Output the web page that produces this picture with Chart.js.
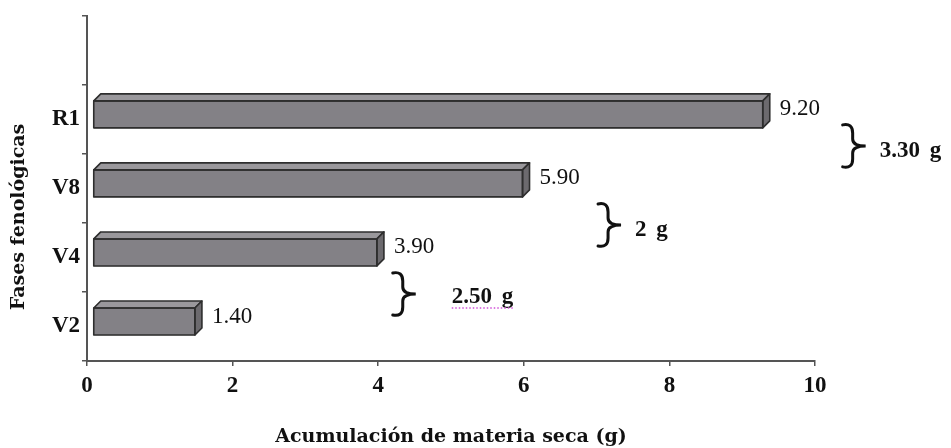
<!DOCTYPE html>
<html>
<head>
<meta charset="utf-8">
<script src="https://cdn.jsdelivr.net/npm/chart.js@4/dist/chart.umd.min.js"></script>
<style>
  html, body { margin: 0; padding: 0; background: #ffffff; }
  #wrap { width: 951px; height: 448px; }
</style>
</head>
<body>
<div id="wrap"><canvas id="c"></canvas></div>
<script>
// Phenological stages (top slot left empty) and dry matter accumulated at each stage (g)
const stages = ['', 'R1', 'V8', 'V4', 'V2'];
const dryMatter = [null, 9.20, 5.90, 3.90, 1.40];
const valueLabels = ['', '9.20', '5.90', '3.90', '1.40'];
const xTicks = [0, 2, 4, 6, 8, 10];
// Gain between consecutive stages: R1-V8, V8-V4, V4-V2
const gainLabels = ['3.30 g', '2 g', '2.50 g'];
const xTitle = 'Acumulación de materia seca (g)';
const yTitle = 'Fases fenológicas';

const FRONT = '#838186', TOP = '#9a989c', SIDE = '#6c6a6e', EDGE = '#2e2e2e';
const DEPTH = 7, SHIFT_X = 6, SHIFT_Y = -5;

// Pseudo-3D bars: front face drawn by Chart.js, top and side faces added here
const bars3d = {
  id: 'bars3d',
  beforeDatasetsDraw(chart) {
    chart.ctx.save();
    chart.ctx.translate(SHIFT_X, SHIFT_Y);
  },
  afterDatasetsDraw(chart) {
    const ctx = chart.ctx;
    const meta = chart.getDatasetMeta(0);
    ctx.lineWidth = 1.6;
    ctx.strokeStyle = EDGE;
    ctx.lineJoin = 'round';
    meta.data.forEach((bar, i) => {
      if (dryMatter[i] == null) return;
      const { x, y, base, height } = bar.getProps(['x', 'y', 'base', 'height'], true);
      const t = y - height / 2, b = y + height / 2;
      ctx.beginPath();
      ctx.moveTo(base, t);
      ctx.lineTo(base + DEPTH, t - DEPTH);
      ctx.lineTo(x + DEPTH, t - DEPTH);
      ctx.lineTo(x, t);
      ctx.closePath();
      ctx.fillStyle = TOP;
      ctx.fill();
      ctx.stroke();
      ctx.beginPath();
      ctx.moveTo(x, t);
      ctx.lineTo(x + DEPTH, t - DEPTH);
      ctx.lineTo(x + DEPTH, b - DEPTH);
      ctx.lineTo(x, b);
      ctx.closePath();
      ctx.fillStyle = SIDE;
      ctx.fill();
      ctx.stroke();
      ctx.beginPath();
      ctx.rect(base, t, x - base, b - t);
      ctx.stroke();
    });
    ctx.restore();

    // value labels to the right of each bar
    ctx.save();
    ctx.font = '23px "Liberation Serif"';
    ctx.fillStyle = '#111';
    ctx.textAlign = 'left';
    ctx.textBaseline = 'middle';
    meta.data.forEach((bar, i) => {
      if (dryMatter[i] == null) return;
      ctx.fillText(valueLabels[i], bar.x + SHIFT_X + DEPTH + 10, bar.y - 10);
    });
    ctx.restore();
  }
};

// Braces marking the gain between consecutive stages
const braceLayout = [
  { x: 10.38, dy: -8, gap: 13, textDy: 5 },
  { x: 7.02, dy: 2, gap: 13, textDy: 5 },
  { x: 4.20, dy: 2, gap: 35, textDy: 3, underline: true }
];

function drawBrace(ctx, x0, cy, h) {
  const top = cy - h / 2, bot = cy + h / 2, xm = x0 + 10, xp = x0 + 23;
  ctx.beginPath();
  ctx.moveTo(x0, top + 1);
  ctx.quadraticCurveTo(xm, top - 1, xm, top + 9);
  ctx.lineTo(xm, cy - 7);
  ctx.quadraticCurveTo(xm, cy, xp, cy);
  ctx.quadraticCurveTo(xm, cy, xm, cy + 7);
  ctx.lineTo(xm, bot - 9);
  ctx.quadraticCurveTo(xm, bot + 1, x0, bot - 1);
  ctx.stroke();
}

const gains = {
  id: 'gains',
  afterDraw(chart) {
    const ctx = chart.ctx;
    const xs = chart.scales.x, ys = chart.scales.y;
    ctx.save();
    ctx.strokeStyle = '#111';
    ctx.lineWidth = 3;
    ctx.lineCap = 'round';
    ctx.fillStyle = '#111';
    ctx.font = 'bold 23px "Liberation Serif"';
    ctx.textAlign = 'left';
    ctx.textBaseline = 'middle';
    try { ctx.wordSpacing = '4px'; } catch (e) {}
    gainLabels.forEach((txt, i) => {
      const L = braceLayout[i];
      const x0 = xs.getPixelForValue(L.x);
      const cy = ys.getPixelForValue(i + 1.5) + L.dy;
      drawBrace(ctx, x0, cy, 44);
      const tx = x0 + 24 + L.gap, ty = cy + L.textDy;
      ctx.fillText(txt, tx, ty);
      if (L.underline) {
        const w = ctx.measureText(txt).width;
        ctx.save();
        ctx.strokeStyle = '#d050d8';
        ctx.lineWidth = 1.5;
        ctx.lineCap = 'butt';
        ctx.setLineDash([1.5, 2]);
        ctx.beginPath();
        ctx.moveTo(tx, ty + 11);
        ctx.lineTo(tx + w, ty + 11);
        ctx.stroke();
        ctx.restore();
      }
    });
    ctx.restore();

    // vertical axis title
    ctx.save();
    ctx.translate(19, 217);
    ctx.rotate(-Math.PI / 2);
    ctx.font = 'bold 19px "DejaVu Serif"';
    ctx.fillStyle = '#111';
    ctx.textAlign = 'center';
    ctx.textBaseline = 'middle';
    ctx.fillText(yTitle, 0, 0);
    ctx.restore();
  }
};

const tickFont = { family: 'Liberation Serif', size: 23, weight: 'bold' };

new Chart(document.getElementById('c'), {
  type: 'bar',
  data: {
    labels: stages,
    datasets: [{
      data: dryMatter,
      backgroundColor: FRONT,
      borderColor: EDGE,
      borderWidth: 0,
      borderSkipped: false,
      barThickness: 27
    }]
  },
  options: {
    indexAxis: 'y',
    responsive: true,
    maintainAspectRatio: false,
    animation: false,
    devicePixelRatio: 1,
    layout: { padding: { top: 15, right: 136, left: 0, bottom: 0 } },
    plugins: { legend: { display: false }, tooltip: { enabled: false } },
    scales: {
      x: {
        type: 'linear',
        min: 0,
        max: 10,
        afterBuildTicks: s => { s.ticks = xTicks.map(v => ({ value: v })); },
        afterFit: s => { s.height = 87; },
        grid: { drawOnChartArea: false, tickLength: 5, color: '#555', lineWidth: 1.5 },
        border: { color: '#555', width: 2 },
        ticks: { font: tickFont, color: '#111', padding: 6, maxRotation: 0 },
        title: {
          display: true,
          text: xTitle,
          font: { family: 'DejaVu Serif', size: 19, weight: 'bold' },
          color: '#111',
          padding: { top: 0, bottom: 0 }
        }
      },
      y: {
        type: 'category',
        offset: true,
        afterFit: s => { s.width = 87; },
        grid: { offset: true, drawOnChartArea: false, tickLength: 5, color: '#555', lineWidth: 1.5 },
        border: { color: '#555', width: 2 },
        ticks: { font: tickFont, color: '#111', padding: 2 }
      }
    }
  },
  plugins: [bars3d, gains]
});
</script>
</body>
</html>
